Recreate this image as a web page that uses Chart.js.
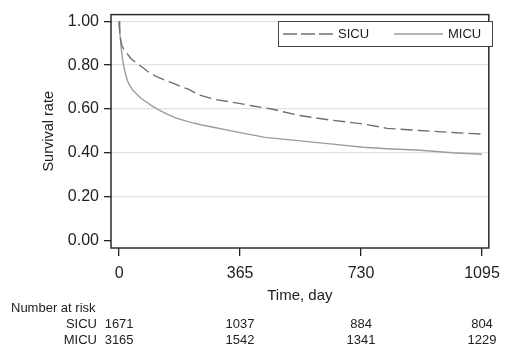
<!DOCTYPE html>
<html>
<head>
<meta charset="utf-8">
<script src="https://cdn.jsdelivr.net/npm/chart.js@4"></script>
<style>
  html, body { margin: 0; padding: 0; background: #fff; }
  #wrap { width: 508px; height: 350px; }
</style>
</head>
<body>
<div id="wrap"><canvas id="miGrafico" width="508" height="350"></canvas></div>
<script>
// Datos
const xTicks = [0, 365, 730, 1095];
const yTicks = [0, 0.2, 0.4, 0.6, 0.8, 1.0];

const sicuDays = [0, 1, 3, 8, 15, 23, 35, 52, 70, 91, 110, 131, 150, 170, 190, 209, 239, 288, 357, 400, 460, 539, 637, 736, 809, 908, 1006, 1095];
const sicuSurv = [1.0, 0.97, 0.93, 0.89, 0.87, 0.855, 0.83, 0.81, 0.79, 0.766, 0.75, 0.736, 0.725, 0.713, 0.70, 0.691, 0.665, 0.644, 0.627, 0.615, 0.60, 0.572, 0.55, 0.532, 0.512, 0.502, 0.493, 0.486];

const micuDays = [0, 2, 5, 8, 12, 18, 25, 32, 42, 52, 65, 82, 100, 121, 145, 170, 195, 219, 250, 288, 357, 441, 539, 637, 736, 809, 908, 1006, 1095];
const micuSurv = [1.0, 0.95, 0.90, 0.855, 0.81, 0.766, 0.73, 0.706, 0.685, 0.669, 0.65, 0.632, 0.613, 0.595, 0.577, 0.56, 0.548, 0.538, 0.527, 0.516, 0.495, 0.471, 0.456, 0.441, 0.426, 0.419, 0.412, 0.401, 0.394];

const groups = ['SICU', 'MICU'];
const sicuRisk = [1671, 1037, 884, 804];
const micuRisk = [3165, 1542, 1341, 1229];

const FONT = '"Liberation Sans", Arial, Helvetica, sans-serif';
const colSicu = '#6f6f6f';
const colMicu = '#9c9c9c';

// Caja, leyenda y tabla de numero en riesgo
const extras = {
    id: 'extras',
    afterDraw(chart) {
        const ctx = chart.ctx;
        const a = chart.chartArea;
        const xs = chart.scales.x;
        ctx.save();
        ctx.strokeStyle = '#2b2b2b';
        ctx.lineWidth = 1.5;
        ctx.strokeRect(a.left, a.top, a.right - a.left, a.bottom - a.top);

        // leyenda
        ctx.lineWidth = 1;
        ctx.strokeStyle = '#444';
        ctx.fillStyle = '#fff';
        ctx.fillRect(278.5, 21.5, 214, 25);
        ctx.strokeRect(278.5, 21.5, 214, 25);
        ctx.lineWidth = 1.3;
        ctx.strokeStyle = colSicu;
        ctx.setLineDash([14, 4]);
        ctx.beginPath(); ctx.moveTo(283, 34); ctx.lineTo(334, 34); ctx.stroke();
        ctx.setLineDash([]);
        ctx.strokeStyle = colMicu;
        ctx.beginPath(); ctx.moveTo(394, 34); ctx.lineTo(443, 34); ctx.stroke();
        ctx.fillStyle = '#222';
        ctx.font = '13px ' + FONT;
        ctx.textBaseline = 'middle';
        ctx.textAlign = 'left';
        ctx.fillText(groups[0], 338, 34.5);
        ctx.fillText(groups[1], 448, 34.5);

        // numero en riesgo
        ctx.font = '13px ' + FONT;
        ctx.fillText('Number at risk', 11, 308);
        const rows = [sicuRisk, micuRisk];
        rows.forEach((row, i) => {
            const y = 324 + i * 16;
            ctx.textAlign = 'right';
            ctx.fillText(groups[i], 97, y);
            ctx.textAlign = 'center';
            row.forEach((n, j) => {
                ctx.fillText(String(n), xs.getPixelForValue(xTicks[j]), y);
            });
        });
        ctx.restore();
    }
};

const chartData = {
    datasets: [{
            label: 'SICU',
            data: sicuDays.map((d, i) => ({x: d, y: sicuSurv[i]})),
            borderColor: colSicu,
            borderWidth: 1.4,
            borderDash: [12, 5],
            pointRadius: 0,
            tension: 0,
        }, {
            label: 'MICU',
            data: micuDays.map((d, i) => ({x: d, y: micuSurv[i]})),
            borderColor: colMicu,
            borderWidth: 1.4,
            pointRadius: 0,
            tension: 0,
        },
    ],
};

new Chart(document.getElementById('miGrafico'), {
    type: 'line',
    data: chartData,
    plugins: [extras],
    options: {
        responsive: false,
        animation: false,
        layout: { padding: { top: 11, right: 11, left: 0, bottom: 0 } },
        plugins: {
            legend: { display: false },
            tooltip: { enabled: false },
        },
        scales: {
            x: {
                type: 'linear',
                min: -24.5,
                max: 1115.5,
                afterFit: (s) => { s.height = 102; },
                afterBuildTicks: (s) => { s.ticks = xTicks.map(v => ({value: v})); },
                border: { display: false },
                grid: { drawOnChartArea: false, tickColor: '#222', tickLength: 8, lineWidth: 1.3 },
                ticks: { color: '#222', padding: 8, maxRotation: 0, font: { family: FONT, size: 16 }, callback: (v) => String(v) },
                title: { display: true, text: 'Time, day', color: '#222', padding: { top: 0, bottom: 45 }, font: { family: FONT, size: 15 } },
            },
            y: {
                min: -0.033,
                max: 1.03,
                afterFit: (s) => { s.width = 111; },
                afterBuildTicks: (s) => { s.ticks = yTicks.map(v => ({value: v})); },
                border: { display: false },
                grid: {
                    color: (c) => c.tick && c.tick.value === 0 ? 'rgba(0,0,0,0)' : '#e2e2e2',
                    tickColor: '#222',
                    tickLength: 7,
                    lineWidth: 1.3,
                },
                ticks: { color: '#222', padding: 5, font: { family: FONT, size: 16 }, callback: (v) => Number(v).toFixed(2) },
                title: { display: true, text: 'Survival rate', color: '#222', padding: { top: 40, bottom: 0 }, font: { family: FONT, size: 14.5 } },
            },
        },
    },
});
</script>
</body>
</html>
